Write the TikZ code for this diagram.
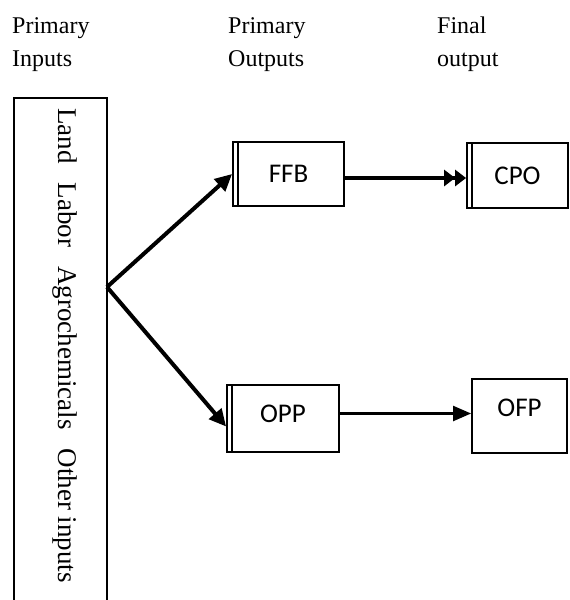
\documentclass[tikz,border=0pt]{standalone}
\usepackage{fontspec}
\setmainfont{Liberation Serif}
\newfontfamily\boxfont{Carlito}
\usetikzlibrary{arrows.meta,positioning,calc}

\tikzset{
  box/.style={rectangle, draw, line width=1.8pt, inner sep=0pt, font=\boxfont\fontsize{27}{30}\selectfont},
  dblbox/.style={box, path picture={\draw[line width=1.2pt] ([xshift=5pt]path picture bounding box.north west) -- ([xshift=5pt]path picture bounding box.south west);}},
  head/.style={align=left, anchor=north west, inner sep=0pt, font=\fontsize{24}{33}\selectfont},
  fatarrow/.style={line width=4pt, -{Triangle[length=17pt,width=16pt]}},
  dblarrow/.style={line width=4pt, -{Triangle[length=11pt,width=16pt]Triangle[length=11pt,width=16pt]}},
  thinarrow/.style={line width=2.2pt, -{Triangle[length=18pt,width=15pt]}}
}

\begin{document}
\begin{tikzpicture}[x=1pt, y=-1pt]
  \useasboundingbox (0,0) rectangle (570,600);
  % column headings
  \node[head] (pin) at (12,17) {Primary\\Inputs};
  \node[head] (pout) at (228,17) {Primary\\Outputs};
  \node[head] (fout) at (437,17) {Final\\output};

  % inputs column
  \node[draw, line width=1.8pt, inner sep=0pt, minimum width=93pt, minimum height=530pt, anchor=north west] (inputs) at (13,97) {};
  \node[rotate=-90, anchor=west, inner sep=0pt, font=\fontsize{27}{30}\selectfont] (items) at (65,108) {Land\hspace{19pt}Labor\hspace{19pt}Agrochemicals\hspace{19pt}Other inputs};
  \coordinate (hub) at (107,287);

  % outputs
  \node[dblbox, minimum width=111pt, minimum height=64pt] (ffb) at (288.5,174) {FFB};
  \node[dblbox, minimum width=101pt, minimum height=65pt] (cpo) at (517.5,175.5) {CPO};
  \node[dblbox, minimum width=112pt, minimum height=67pt, text depth=9pt] (opp) at (283,418.5) {OPP};
  \node[box, minimum width=95pt, minimum height=74pt, text depth=16pt] (ofp) at (519.5,416) {OFP};

  \draw[fatarrow] (hub) -- (ffb.west);
  \draw[fatarrow] (hub) -- ([yshift=-8pt]opp.west);
  \draw[dblarrow] ([yshift=-4pt]ffb.east) -- ([yshift=-4pt]ffb.east -| cpo.west);
  \draw[thinarrow] ([yshift=5pt]opp.east) -- ([yshift=5pt]opp.east -| ofp.west);
\end{tikzpicture}
\end{document}
